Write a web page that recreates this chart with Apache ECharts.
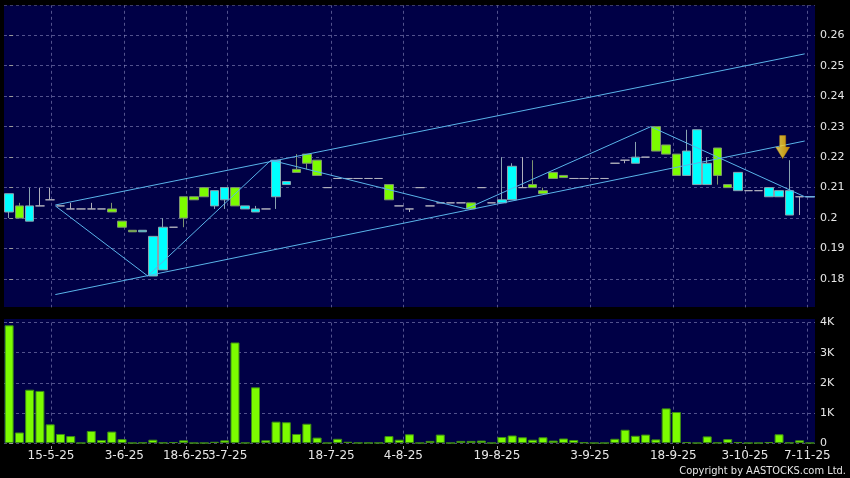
<!DOCTYPE html>
<html>
<head>
<meta charset="utf-8">
<script src="https://cdn.jsdelivr.net/npm/echarts@6/dist/echarts.min.js"></script>
<style>
html,body{margin:0;padding:0;background:#000;}
#chart{width:850px;height:478px;}
</style>
</head>
<body>
<div id="chart"></div>
<script>
// ---- data ----
const categories = ['2025-05-09','2025-05-12','2025-05-13','2025-05-14','2025-05-15','2025-05-16','2025-05-19','2025-05-20','2025-05-21','2025-05-22',
 '2025-05-27','2025-06-02','2025-06-05','2025-06-06','2025-06-10','2025-06-11','2025-06-13','2025-06-17','2025-06-19','2025-06-23',
 '2025-06-26','2025-06-30','2025-07-04','2025-07-07','2025-07-08','2025-07-09','2025-07-10','2025-07-11','2025-07-14','2025-07-15',
 '2025-07-16','2025-07-21','2025-07-22','2025-07-23','2025-07-25','2025-07-28','2025-07-30','2025-07-31','2025-08-04','2025-08-05',
 '2025-08-06','2025-08-07','2025-08-08','2025-08-11','2025-08-13','2025-08-14','2025-08-15','2025-08-18','2025-08-20','2025-08-21',
 '2025-08-22','2025-08-25','2025-08-26','2025-08-27','2025-08-28','2025-08-29','2025-09-01','2025-09-02','2025-09-04','2025-09-05',
 '2025-09-08','2025-09-09','2025-09-10','2025-09-11','2025-09-17','2025-09-18','2025-09-19','2025-09-22','2025-09-24','2025-09-25',
 '2025-09-26','2025-09-29','2025-09-30','2025-10-03','2025-10-08','2025-10-14','2025-10-21','2025-10-27','2025-11-07'];

const openP  = [0.208,0.200,0.204,0.204,0.206,0.204,0.203,0.203,0.203,0.203,
 0.202,0.197,0.1955,0.196,0.194,0.197,0.197,0.200,0.206,0.207,
 0.209,0.210,0.204,0.204,0.203,0.203,0.219,0.212,0.215,0.218,
 0.214,0.210,0.213,0.213,0.213,0.213,0.213,0.206,0.204,0.203,
 0.210,0.204,0.205,0.205,0.205,0.203,0.210,0.205,0.206,0.217,
 0.210,0.210,0.208,0.213,0.2133,0.213,0.213,0.213,0.213,0.218,
 0.219,0.220,0.220,0.222,0.221,0.214,0.222,0.229,0.218,0.214,
 0.210,0.215,0.209,0.209,0.210,0.209,0.209,0.207,0.207];
const closeP = [0.202,0.204,0.199,0.204,0.206,0.204,0.203,0.203,0.203,0.203,
 0.203,0.199,0.196,0.1955,0.181,0.183,0.197,0.207,0.207,0.210,
 0.204,0.206,0.210,0.203,0.202,0.203,0.207,0.211,0.216,0.221,
 0.219,0.210,0.213,0.213,0.213,0.213,0.213,0.211,0.204,0.203,
 0.210,0.204,0.205,0.205,0.205,0.205,0.210,0.205,0.205,0.206,
 0.210,0.211,0.209,0.215,0.214,0.213,0.213,0.213,0.213,0.218,
 0.219,0.218,0.220,0.230,0.224,0.221,0.214,0.211,0.211,0.223,
 0.211,0.209,0.209,0.209,0.207,0.207,0.201,0.207,0.207];
const lowP   = [0.200,0.200,0.199,0.204,0.206,0.204,0.203,0.203,0.203,0.203,
 0.202,0.197,0.1955,0.1955,0.181,0.183,0.197,0.197,0.206,0.207,
 0.203,0.203,0.204,0.203,0.202,0.203,0.203,0.211,0.215,0.216,
 0.214,0.210,0.213,0.213,0.213,0.213,0.213,0.206,0.204,0.202,
 0.210,0.204,0.205,0.205,0.205,0.203,0.210,0.205,0.205,0.206,
 0.210,0.210,0.208,0.213,0.2133,0.213,0.213,0.213,0.213,0.218,
 0.218,0.218,0.220,0.222,0.221,0.214,0.214,0.211,0.211,0.211,
 0.210,0.209,0.209,0.209,0.207,0.207,0.201,0.201,0.207];
const highP  = [0.208,0.205,0.210,0.210,0.210,0.204,0.205,0.203,0.205,0.203,
 0.205,0.199,0.196,0.196,0.194,0.200,0.197,0.207,0.207,0.210,
 0.209,0.210,0.210,0.204,0.204,0.203,0.219,0.212,0.221,0.221,
 0.219,0.210,0.213,0.213,0.213,0.213,0.213,0.211,0.204,0.203,
 0.210,0.204,0.205,0.205,0.205,0.205,0.210,0.205,0.220,0.218,
 0.220,0.219,0.210,0.215,0.214,0.213,0.213,0.213,0.213,0.218,
 0.219,0.225,0.220,0.230,0.224,0.221,0.229,0.229,0.220,0.223,
 0.211,0.215,0.209,0.209,0.210,0.209,0.219,0.207,0.207];

const volumes = [3910,350,1770,1730,620,300,230,0,400,100,
 380,130,0,10,110,10,30,90,0,0,
 40,90,3340,5,1850,90,710,690,300,640,
 180,0,140,40,5,5,5,230,110,290,
 0,70,280,0,70,70,80,0,200,250,
 190,110,190,80,150,100,20,0,0,140,
 440,240,280,120,1150,1030,30,0,220,10,
 130,30,0,0,30,290,10,90,0];

const tickPos = [4.08, 11.22, 17.26, 21.29, 31.38, 38.4, 47.52, 56.58, 64.7, 71.68, 77.75];
const tickLabels = ['15-5-25','3-6-25','18-6-25','3-7-25','18-7-25','4-8-25','19-8-25','3-9-25','18-9-25','3-10-25','7-11-25'];

const zigzag = [[4.5,0.204],[13.5,0.181],[25.5,0.219],[44.5,0.203],[62.5,0.230],[77.5,0.207],[78.5,0.207]];
const upperChannel = [[4.5,0.2043],[77.5,0.2539]];
const lowerChannel = [[4.5,0.1749],[77.5,0.2253]];
const arrowPoint = [[75.35,0.2233]];

const priceTicks = {min:0.17, max:0.27, interval:0.01};
const volTicks = {min:0, max:4000, interval:1000};

// ---- chart ----
const chart = echarts.init(document.getElementById('chart'), null, {renderer:'canvas'});
const candleData = openP.map((o,i)=>[o, closeP[i], lowP[i], highP[i]]);
const FONT = 'DejaVu Sans';
const gridLine = {show:true, lineStyle:{color:'rgba(150,150,200,0.55)', type:[3,3], width:1}};
const labelMap = {};
tickPos.forEach((p,i)=>{labelMap[p]=tickLabels[i];});

const option = {
  backgroundColor:'#000000',
  animation:false,
  graphic:[
    {type:'rect', z:-10, shape:{x:4,y:5,width:811,height:302}, style:{fill:'#000046'}},
    {type:'rect', z:-10, shape:{x:4,y:319,width:811,height:124}, style:{fill:'#000046'}},
    {type:'rect', z:100, shape:{x:0,y:307.5,width:850,height:4.5}, style:{fill:'#000000'}},
    {type:'rect', z:100, shape:{x:0,y:0,width:850,height:5.2}, style:{fill:'#000000'}},
    {type:'text', z:100, right:4, top:466, style:{text:'Copyright by AASTOCKS.com Ltd.', fill:'#e6e6e6', font:'11px "DejaVu Sans Condensed", "DejaVu Sans"'}}
  ],
  grid:[
    {left:4, top:4.8, width:811, height:304.7},
    {left:4, top:322.6, width:811, height:120.4}
  ],
  xAxis:[
    {type:'category', gridIndex:0, position:'bottom', data:categories, boundaryGap:true, show:false},
    {type:'value', gridIndex:0, position:'top', min:-0.5, max:78.5, axisLine:{show:false},
      axisTick:{show:false, customValues:tickPos}, axisLabel:{show:false, customValues:tickPos},
      splitLine:gridLine},
    {type:'category', gridIndex:1, position:'top', data:categories, boundaryGap:true, show:false},
    {type:'value', gridIndex:1, position:'bottom', min:-0.5, max:78.5, offset:3, axisLine:{show:false},
      axisTick:{show:true, length:3, lineStyle:{color:'#9a9a9a'}, customValues:tickPos},
      axisLabel:{show:true, customValues:tickPos, color:'#e6e6e6', fontFamily:FONT, fontSize:12, margin:4,
        formatter:(v)=>labelMap[v]!==undefined?labelMap[v]:''},
      splitLine:gridLine}
  ],
  yAxis:[
    {type:'value', gridIndex:0, position:'right', min:priceTicks.min, max:priceTicks.max, interval:priceTicks.interval,
      offset:2, axisLine:{show:false}, axisTick:{show:true, length:4, lineStyle:{color:'#9a9a9a'}},
      axisLabel:{color:'#e6e6e6', fontFamily:FONT, fontSize:11, margin:3, showMinLabel:false, showMaxLabel:false},
      splitLine:gridLine},
    {type:'value', gridIndex:1, position:'right', min:volTicks.min, max:volTicks.max, interval:volTicks.interval,
      offset:2, axisLine:{show:false}, axisTick:{show:true, length:4, lineStyle:{color:'#9a9a9a'}},
      axisLabel:{color:'#e6e6e6', fontFamily:FONT, fontSize:11, margin:3,
        formatter:(v)=> v===0 ? '0' : (v/1000)+'K'},
      splitLine:gridLine}
  ],
  series:[
    {type:'candlestick', xAxisIndex:0, yAxisIndex:0, data:candleData, barWidth:9,
      itemStyle:{color:'#7CFC00', color0:'#00FFFF', borderColor:'#7f9470', borderColor0:'#8aa4b0', borderColorDoji:'#b0b0bc', borderWidth:1}},
    {type:'line', xAxisIndex:1, yAxisIndex:0, data:upperChannel, symbol:'none', lineStyle:{color:'#5ab4ea', width:1}},
    {type:'line', xAxisIndex:1, yAxisIndex:0, data:lowerChannel, symbol:'none', lineStyle:{color:'#5ab4ea', width:1}},
    {type:'line', xAxisIndex:1, yAxisIndex:0, data:zigzag, symbol:'none', lineStyle:{color:'#5ab4ea', width:1}},
    {type:'scatter', xAxisIndex:1, yAxisIndex:0, data:arrowPoint, z:10,
      symbol:'path://M4,0 L10,0 L10,11 L14,11 L7,22 L0,11 L4,11 Z', symbolSize:[14,23],
      itemStyle:{color:new echarts.graphic.LinearGradient(0,0,1,0,[{offset:0,color:'#fff170'},{offset:0.5,color:'#ffd21e'},{offset:1,color:'#f0a800'}]), borderColor:'#c89000', borderWidth:0.5}},
    {type:'bar', xAxisIndex:2, yAxisIndex:1, data:volumes, barWidth:9,
      itemStyle:{color:'#7CFC00', borderColor:'#3c8c14', borderWidth:1}}
  ]
};
chart.setOption(option);
</script>
</body>
</html>
